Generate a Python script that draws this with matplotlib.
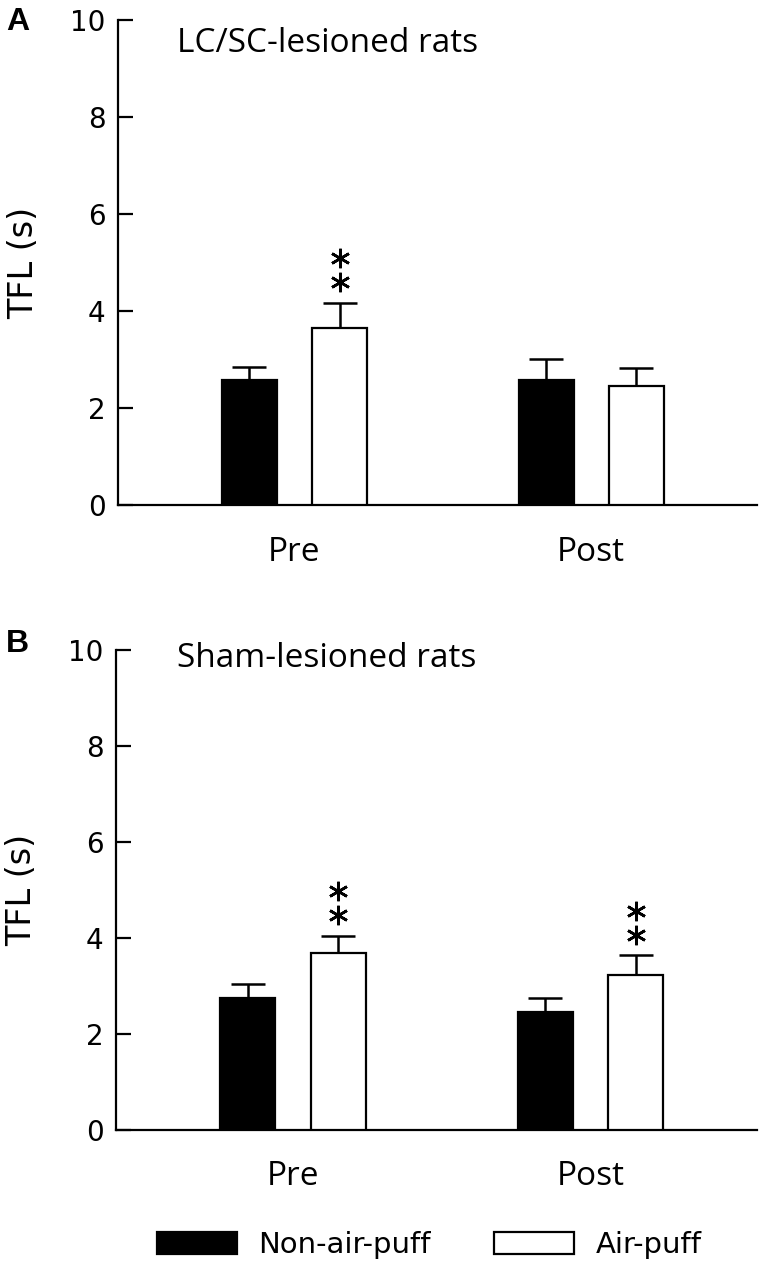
import numpy as np
import matplotlib
matplotlib.use("Agg")
import matplotlib.pyplot as plt

# data
groups = ["Pre", "Post"]
series = ["Non-air-puff", "Air-puff"]
lesion_mean = {"Non-air-puff": [2.57, 2.57], "Air-puff": [3.66, 2.46]}
lesion_err = {"Non-air-puff": [0.27, 0.44], "Air-puff": [0.50, 0.37]}
lesion_sig = {"Non-air-puff": [False, False], "Air-puff": [True, False]}
sham_mean = {"Non-air-puff": [2.74, 2.46], "Air-puff": [3.68, 3.23]}
sham_err = {"Non-air-puff": [0.30, 0.28], "Air-puff": [0.36, 0.41]}
sham_sig = {"Non-air-puff": [False, False], "Air-puff": [True, True]}
yticks = [0, 2, 4, 6, 8, 10]

colors = {"Non-air-puff": "black", "Air-puff": "white"}
offsets = {"Non-air-puff": -0.152, "Air-puff": 0.152}
width = 0.185

fig = plt.figure(figsize=(7.68, 12.69), dpi=100)
axA = fig.add_axes([0.1536, 0.602, 0.8325, 0.3822])
axB = fig.add_axes([0.1510, 0.1096, 0.8351, 0.3782])


def draw_panel(ax, means, errs, sigs):
    x = np.arange(len(groups))
    handles = []
    for s in series:
        xs = x + offsets[s]
        h = ax.bar(xs, means[s], width, color=colors[s], edgecolor="black",
                   linewidth=1.6, zorder=3, label=s)
        handles.append(h)
        ax.errorbar(xs, means[s], yerr=[np.zeros(len(xs)), errs[s]], fmt="none",
                    ecolor="black", elinewidth=1.8, capsize=12, capthick=1.8, zorder=2)
        # significance stars stacked above the error bar
        for xi, m, e, sg in zip(xs, means[s], errs[s], sigs[s]):
            if sg:
                ax.plot([xi, xi], [m + e + 0.43, m + e + 0.93], linestyle="none",
                        marker=(6, 2, 0), markersize=14, markeredgewidth=1.9,
                        color="black", zorder=4)
    ax.set_xlim(-0.595, 1.56)
    ax.set_ylim(0, 10)
    ax.set_yticks(yticks)
    ax.set_yticklabels([str(t) for t in yticks], fontsize=20, family="DejaVu Sans")
    ax.tick_params(axis="y", direction="in", length=11, width=1.6, pad=9)
    ax.set_xticks(x)
    ax.set_xticklabels(groups, fontsize=24, family="Open Sans")
    ax.tick_params(axis="x", length=0, pad=22)
    for side in ["top", "right"]:
        ax.spines[side].set_visible(False)
    for side in ["left", "bottom"]:
        ax.spines[side].set_linewidth(1.6)
    ax.set_ylabel("TFL (s)", fontsize=24, family="DejaVu Sans", va="center")
    ax.yaxis.set_label_coords(-0.147, 0.5)
    return handles


draw_panel(axA, lesion_mean, lesion_err, lesion_sig)
handles = draw_panel(axB, sham_mean, sham_err, sham_sig)

fig.text(0.2305, 0.966, "LC/SC-lesioned rats", fontsize=24, family="Open Sans",
         va="center", ha="left")
fig.text(0.2305, 0.4813, "Sham-lesioned rats", fontsize=24, family="Open Sans",
         va="center", ha="left")
fig.text(0.008, 0.983, "A", fontsize=23, fontweight="bold", family="Liberation Sans",
         va="center", ha="left")
fig.text(0.008, 0.4925, "B", fontsize=23, fontweight="bold", family="Liberation Sans",
         va="center", ha="left")

fig.legend(handles, series, loc="center", bbox_to_anchor=(0.559, 0.019), ncol=2,
           frameon=False, handlelength=2.75, handleheight=0.76, handletextpad=0.72,
           columnspacing=2.17, borderpad=0.2,
           prop={"family": "DejaVu Sans", "size": 21})

fig.savefig("out.png", dpi=100)
